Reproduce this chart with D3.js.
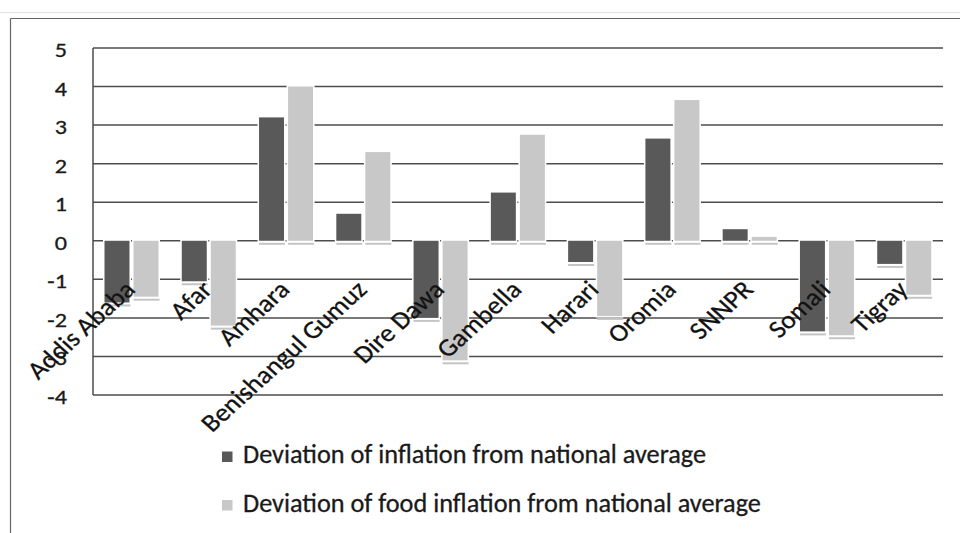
<!DOCTYPE html>
<html>
<head>
<meta charset="utf-8">
<script src="https://cdn.jsdelivr.net/npm/d3@7/dist/d3.min.js"></script>
<style>
  html, body { margin: 0; padding: 0; background: #fff; }
  svg { display: block; font-family: Carlito, Calibri, Lato, "DejaVu Sans", sans-serif; }
  text { stroke: #1a1a1a; stroke-width: 0.3px; }
</style>
</head>
<body>
<svg id="chart" width="960" height="533"></svg>
<script>
// Regional deviation of inflation from the national average (percentage points)
const regions = ["Addis Ababa", "Afar", "Amhara", "Benishangul Gumuz", "Dire Dawa",
                 "Gambella", "Harari", "Oromia", "SNNPR", "Somali", "Tigray"];
const inflationDeviation = [-1.6, -1.05, 3.2, 0.7, -2.0, 1.25, -0.55, 2.65, 0.3, -2.35, -0.6];
const foodInflationDeviation = [-1.45, -2.2, 4.0, 2.3, -3.1, 2.75, -1.95, 3.65, 0.1, -2.45, -1.4];
const seriesNames = ["Deviation of inflation from national average",
                     "Deviation of food inflation from national average"];
const yTicks = [5, 4, 3, 2, 1, 0, -1, -2, -3, -4];

const seriesValues = [inflationDeviation, foodInflationDeviation];
const seriesColors = ["#595959", "#c8c8c8"];

const svg = d3.select("#chart");

// outer frame of the chart object
svg.append("line").attr("x1", 0).attr("x2", 960).attr("y1", 12.5).attr("y2", 12.5)
  .attr("stroke", "#e2e2e2").attr("stroke-width", 1);
svg.append("line").attr("x1", 10.5).attr("x2", 960).attr("y1", 18.5).attr("y2", 18.5)
  .attr("stroke", "#666").attr("stroke-width", 1.2);
svg.append("line").attr("x1", 10.5).attr("x2", 10.5).attr("y1", 18.5).attr("y2", 533)
  .attr("stroke", "#666").attr("stroke-width", 1.2);

const plot = { left: 93, right: 943, top: 48, bottom: 395 };

const y = d3.scaleLinear().domain([-4, 5]).range([plot.bottom, plot.top]);
const x0 = d3.scaleBand().domain(regions).range([plot.left, plot.right]).padding(0);
const x1 = d3.scaleBand().domain(d3.range(seriesValues.length))
  .range([11.5, 65.5]).paddingInner(0.14).paddingOuter(0);

// horizontal gridlines
svg.append("g").selectAll("line").data(yTicks).join("line")
  .attr("x1", plot.left).attr("x2", plot.right)
  .attr("y1", d => y(d)).attr("y2", d => y(d))
  .attr("stroke", "#4d4d4d").attr("stroke-width", 1.5);

// value axis line
svg.append("line").attr("x1", plot.left).attr("x2", plot.left)
  .attr("y1", y(5)).attr("y2", y(-4)).attr("stroke", "#4d4d4d").attr("stroke-width", 1.5);

// value axis labels (slightly wide lettering)
svg.append("g").selectAll("text").data(yTicks).join("text")
  .attr("transform", d => `translate(67,${y(d) + 9}) scale(1.15,1)`)
  .attr("text-anchor", "end")
  .attr("font-size", 21)
  .attr("fill", "#1a1a1a")
  .text(d => d < 0 ? "-" + Math.abs(d) : String(d));

// bars
const rows = regions.map((r, i) => ({ region: r, values: seriesValues.map(s => s[i]) }));
const groups = svg.append("g").selectAll("g").data(rows).join("g")
  .attr("transform", d => `translate(${x0(d.region)},0)`);

// soft shadow strip beneath each bar end
groups.selectAll("rect.shadow").data(d => d.values.map((v, k) => ({ v, k }))).join("rect")
  .attr("class", "shadow")
  .attr("x", d => x1(d.k))
  .attr("width", x1.bandwidth() + 1)
  .attr("y", d => Math.max(y(d.v), y(0)) + 2)
  .attr("height", 2)
  .attr("fill", "#c4c4c4");

groups.selectAll("rect.bar").data(d => d.values.map((v, k) => ({ v, k }))).join("rect")
  .attr("class", "bar")
  .attr("x", d => x1(d.k))
  .attr("width", x1.bandwidth())
  .attr("y", d => Math.min(y(d.v), y(0)))
  .attr("height", d => Math.abs(y(d.v) - y(0)))
  .attr("fill", d => seriesColors[d.k])
  .attr("stroke", "#fff").attr("stroke-width", 3).attr("paint-order", "stroke");

// category labels, rotated
svg.append("g").selectAll("text").data(regions).join("text")
  .attr("transform", d => `translate(${x0(d) + x0.bandwidth() / 2 + 5},291) scale(1.1,1) rotate(-45)`)
  .attr("text-anchor", "end")
  .attr("font-size", 25)
  .attr("fill", "#111")
  .text(d => d);

// legend
const legend = svg.append("g").selectAll("g").data(seriesNames).join("g")
  .attr("transform", (d, i) => `translate(222,${463 + i * 48.5})`);
legend.append("rect").attr("x", 0).attr("y", -11.5).attr("width", 10.5).attr("height", 10.5)
  .attr("fill", (d, i) => seriesColors[i])
  .attr("stroke", "none");
legend.append("text")
  .attr("transform", "translate(21,0) scale(1.01,1)")
  .attr("font-size", 26).attr("fill", "#1a1a1a").text(d => d);
</script>
</body>
</html>
